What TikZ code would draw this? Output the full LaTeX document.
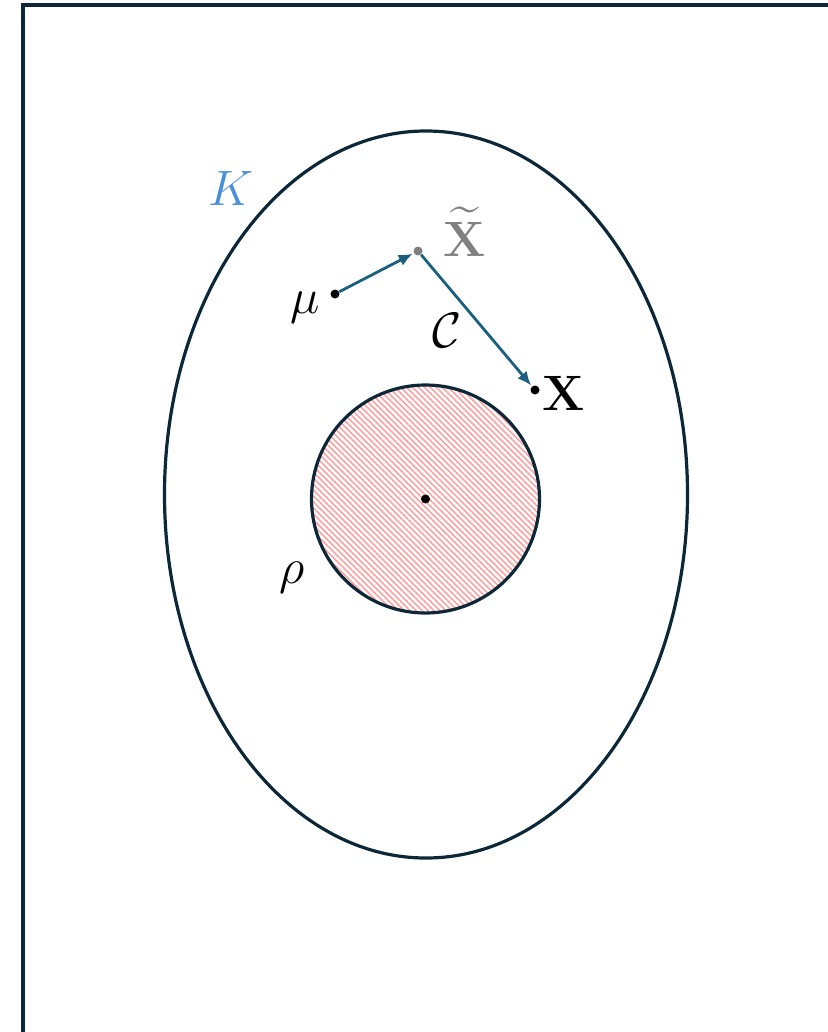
\documentclass[tikz,border=0pt]{standalone}
\usepackage{amsmath,amssymb}
\usetikzlibrary{arrows.meta,patterns.meta}
\definecolor{frameblue}{HTML}{0B2738}
\definecolor{vecblue}{HTML}{1A5F80}
\definecolor{kblue}{HTML}{4A90D9}
\definecolor{hatchred}{HTML}{FFA0A0}
\tikzset{
  dot/.style={circle,fill=black,inner sep=0pt,minimum size=4.5pt},
  vec/.style={draw=vecblue,line width=1.4pt,-{Latex[length=7pt,width=6pt]},shorten >=0.5pt},
  lbl/.style={inner sep=0pt,font=\fontsize{26}{30}\selectfont}
}
\begin{document}
\begin{tikzpicture}[x=0.5pt,y=-0.5pt]
  \useasboundingbox (0,0) rectangle (828,1032);
  \clip (0,0) rectangle (828,1032);

  % outer frame
  \draw[frameblue,line width=2pt] (23,1100) -- (23,5) -- (900,5);

  % the set K and the ball
  \draw[frameblue,line width=1.6pt] (426,494.5) ellipse [x radius=130.75pt,y radius=181.75pt];
  \fill[pattern={Lines[angle=-45,distance=2.1pt,line width=0.8pt]},pattern color=hatchred]
    (425.5,499) circle [radius=57pt];
  \draw[frameblue,line width=1.6pt] (425.5,499) circle [radius=57pt];

  % points
  \node[dot] (ctr) at (425.5,499) {};
  \node[dot] (mu) at (335,294) {};
  \node[dot,fill=gray] (xt) at (418,251) {};
  \node[dot] (x) at (535,390) {};

  \draw[vec] (mu) -- (xt);
  \draw[vec] (xt) -- (x);

  % labels
  \node[lbl,text=kblue,font=\fontsize{34}{40}\selectfont] (lK) at (231,188) {$K$};
  \node[lbl,text=gray] (lxt) at (465,232) {$\widetilde{\mathbf{X}}$};
  \node[lbl] (lmu) at (305,308) {$\mu$};
  \node[lbl] (lC) at (447,330) {$\mathcal{C}$};
  \node[lbl] (lx) at (564,393) {$\mathbf{X}$};
  \node[lbl] (lrho) at (292,578) {$\rho$};
\end{tikzpicture}
\end{document}
